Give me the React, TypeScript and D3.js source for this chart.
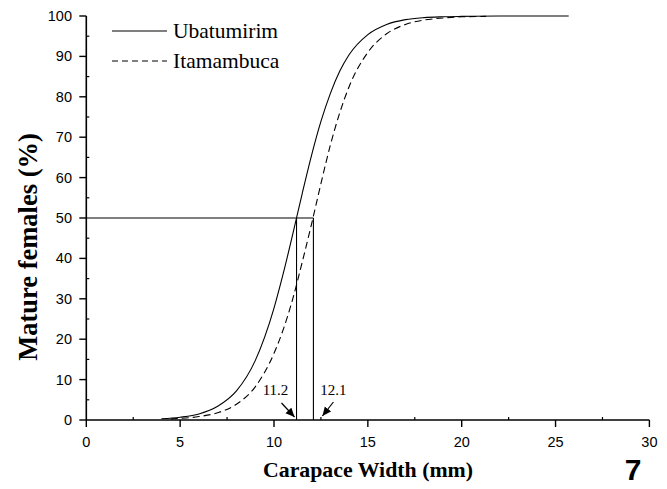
import React from "react";
import * as d3 from "d3";

const ubaX = [4, 5, 6, 7, 8, 9, 10, 10.5, 11, 11.5, 12, 12.5, 13, 13.5, 14, 15, 16, 17, 18, 19, 20, 22, 25.7];
const ubaY = [0.3, 0.7, 1.5, 3.4, 7.2, 14.7, 27.7, 36.4, 46, 56, 65.5, 73.9, 80.8, 86.3, 90.4, 95.4, 97.9, 99.1, 99.6, 99.8, 99.9, 100, 100];
const itaX = [4.5, 5, 6, 7, 8, 9, 10, 10.5, 11, 11.5, 12, 12.5, 13, 13.5, 14, 15, 16, 17, 18, 19, 20, 21.3];
const itaY = [0.27, 0.4, 0.85, 1.8, 3.9, 8.2, 16.5, 22.5, 30, 39, 48.5, 58.5, 68, 76, 82.5, 91, 95.6, 97.9, 99, 99.5, 99.8, 99.9];
const seriesNames = ["Ubatumirim", "Itamambuca"];
const l50 = [11.2, 12.1];
const l50Labels = ["11.2", "12.1"];
const xTicks = [0, 5, 10, 15, 20, 25, 30];
const xMinor = [2.5, 7.5, 12.5, 17.5, 22.5, 27.5];
const yTicks = [0, 10, 20, 30, 40, 50, 60, 70, 80, 90, 100];
const yMinor = [5, 15, 25, 35, 45, 55, 65, 75, 85, 95];

export default function App() {
  const W = 667, H = 489;
  const x = d3.scaleLinear().domain([0, 30]).range([86.3, 649.4]);
  const y = d3.scaleLinear().domain([0, 100]).range([420, 16]);
  const line = d3.line<[number, number]>().x(d => x(d[0])).y(d => y(d[1])).curve(d3.curveMonotoneX);
  const uba = ubaX.map((v, i) => [v, ubaY[i]] as [number, number]);
  const ita = itaX.map((v, i) => [v, itaY[i]] as [number, number]);
  const sans = "'Liberation Sans', Arial, sans-serif";
  const serif = "'Liberation Serif', 'Times New Roman', serif";
  const dash = "7,4";
  return (
    <svg width={W} height={H} style={{ position: "absolute", left: 0, top: 0, background: "#fff" }}>
      <defs>
        <marker id="ah" viewBox="0 0 10 10" refX="10" refY="5" markerWidth="9" markerHeight="9" orient="auto" markerUnits="userSpaceOnUse">
          <path d="M0,0.5 L10,5 L0,9.5 z" fill="#000" />
        </marker>
      </defs>
      {/* curves */}
      <path d={line(uba) || ""} fill="none" stroke="#000" strokeWidth={1.1} />
      <path d={line(ita) || ""} fill="none" stroke="#000" strokeWidth={1.1} strokeDasharray={dash} />
      {/* L50 reference lines */}
      <line x1={x(0)} x2={x(l50[1])} y1={y(50)} y2={y(50)} stroke="#000" strokeWidth={1.1} />
      {l50.map((v, i) => (
        <line key={i} x1={x(v)} x2={x(v)} y1={y(0)} y2={y(50)} stroke="#000" strokeWidth={1.1} />
      ))}
      {/* arrows */}
      <line x1={x(l50[0]) - 15} y1={403} x2={x(l50[0]) - 2} y2={417} stroke="#000" strokeWidth={1.2} markerEnd="url(#ah)" />
      <text x={x(l50[0]) - 21} y={395} fontFamily={serif} fontSize={15} textAnchor="middle">{l50Labels[0]}</text>
      <line x1={x(l50[1]) + 20} y1={402} x2={x(l50[1]) + 9} y2={416} stroke="#000" strokeWidth={1.2} markerEnd="url(#ah)" />
      <text x={x(l50[1]) + 20} y={395} fontFamily={serif} fontSize={15} textAnchor="middle">{l50Labels[1]}</text>
      {/* axes */}
      <line x1={x(0)} x2={x(30)} y1={y(0)} y2={y(0)} stroke="#000" strokeWidth={1.6} />
      <line x1={x(0)} x2={x(0)} y1={y(0)} y2={y(100)} stroke="#000" strokeWidth={1.6} />
      {xTicks.map(t => (
        <g key={"xt" + t}>
          <line x1={x(t)} x2={x(t)} y1={y(0)} y2={y(0) + 7} stroke="#000" strokeWidth={1.4} />
          <text x={x(t)} y={y(0) + 27} fontFamily={sans} fontSize={14.5} textAnchor="middle">{t}</text>
        </g>
      ))}
      {xMinor.map(t => (
        <line key={"xm" + t} x1={x(t)} x2={x(t)} y1={y(0)} y2={y(0) - 3} stroke="#000" strokeWidth={1.2} />
      ))}
      {yTicks.map(t => (
        <g key={"yt" + t}>
          <line x1={x(0) - 7} x2={x(0)} y1={y(t)} y2={y(t)} stroke="#000" strokeWidth={1.4} />
          <text x={72} y={y(t) + 5} fontFamily={sans} fontSize={14.5} textAnchor="end">{t}</text>
        </g>
      ))}
      {yMinor.map(t => (
        <line key={"ym" + t} x1={x(0)} x2={x(0) + 3} y1={y(t)} y2={y(t)} stroke="#000" strokeWidth={1.2} />
      ))}
      {/* legend */}
      <line x1={112} x2={167} y1={31} y2={31} stroke="#000" strokeWidth={1.1} />
      <text x={173} y={38} fontFamily={serif} fontSize={21.5}>{seriesNames[0]}</text>
      <line x1={112} x2={167} y1={61} y2={61} stroke="#000" strokeWidth={1.1} strokeDasharray="6,4" />
      <text x={173} y={68} fontFamily={serif} fontSize={21.5}>{seriesNames[1]}</text>
      {/* axis titles */}
      <text x={368} y={477} fontFamily={serif} fontSize={21.5} fontWeight="bold" textAnchor="middle" textLength={210} lengthAdjust="spacingAndGlyphs">Carapace Width (mm)</text>
      <text transform="translate(37,247) rotate(-90)" fontFamily={serif} fontSize={26.5} fontWeight="bold" textAnchor="middle">Mature females (%)</text>
      <text x={633} y={480} fontFamily={sans} fontSize={30} fontWeight="bold" textAnchor="middle">7</text>
    </svg>
  );
}
